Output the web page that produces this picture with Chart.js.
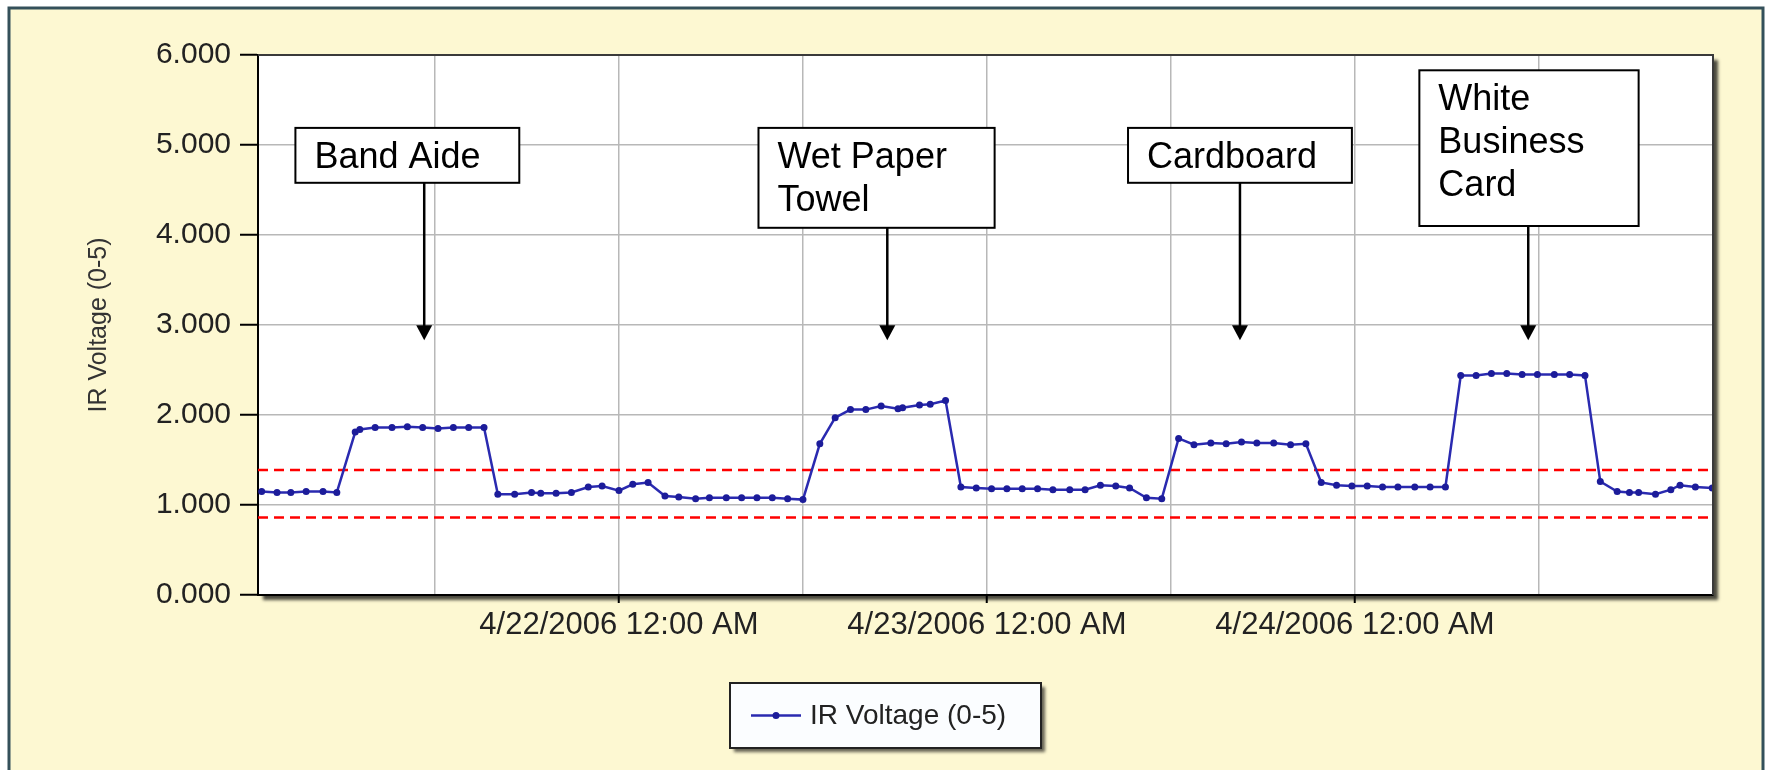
<!DOCTYPE html>
<html>
<head>
<meta charset="utf-8">
<script src="https://cdn.jsdelivr.net/npm/chart.js@4.4.0/dist/chart.umd.min.js"></script>
<style>
  html, body { margin: 0; padding: 0; background: #fff; }
  #wrap { width: 1771px; height: 770px; position: relative; }
</style>
</head>
<body>
<div id="wrap"><canvas id="chart"></canvas></div>
<script>
// hours since 4/21/2006 12:00 AM
const hours = [
  0.7, 1.7, 2.6, 3.6, 4.7, 5.6,
  6.8, 7.1, 8.1, 9.2, 10.2, 11.2, 12.2, 13.2, 14.2, 15.2,
  16.1, 17.2, 18.3, 18.9, 19.9, 20.9, 22.0, 22.9, 24.0, 24.9, 25.9, 27.0, 27.9, 29.0, 29.9, 31.0, 32.0, 33.0, 34.0, 35.0, 36.0,
  37.1, 38.1, 39.1, 40.1, 41.1, 42.2, 42.5, 43.6, 44.3, 45.3,
  46.3, 47.3, 48.3, 49.3, 50.3, 51.3, 52.3, 53.4, 54.4, 55.4, 56.4, 57.3, 58.4, 59.4,
  60.5, 61.5, 62.6, 63.6, 64.6, 65.6, 66.7, 67.8, 68.8,
  69.8, 70.8, 71.8, 72.8, 73.8, 74.8, 75.9, 76.9, 77.9,
  78.9, 79.9, 80.9, 81.9, 82.9, 83.9, 85.0, 86.0, 87.0,
  88.0, 89.1, 89.9, 90.5, 91.6, 92.6, 93.2, 94.2, 95.3
];
const voltage = [
  1.15, 1.14, 1.14, 1.15, 1.15, 1.14,
  1.81, 1.84, 1.86, 1.86, 1.87, 1.86, 1.85, 1.86, 1.86, 1.86,
  1.12, 1.12, 1.14, 1.13, 1.13, 1.14, 1.20, 1.21, 1.16, 1.23, 1.25, 1.10, 1.09, 1.07, 1.08, 1.08, 1.08, 1.08, 1.08, 1.07, 1.06,
  1.68, 1.97, 2.06, 2.06, 2.10, 2.07, 2.08, 2.11, 2.12, 2.16,
  1.20, 1.19, 1.18, 1.18, 1.18, 1.18, 1.17, 1.17, 1.17, 1.22, 1.21, 1.19, 1.08, 1.07,
  1.74, 1.67, 1.69, 1.68, 1.70, 1.69, 1.69, 1.67, 1.68,
  1.25, 1.22, 1.21, 1.21, 1.20, 1.20, 1.20, 1.20, 1.20,
  2.44, 2.44, 2.46, 2.46, 2.45, 2.45, 2.45, 2.45, 2.44,
  1.26, 1.15, 1.14, 1.14, 1.12, 1.17, 1.22, 1.20, 1.19
];
const tickHours = [12, 24, 36, 48, 60, 72, 84];
const tickLabels = ['', '4/22/2006 12:00 AM', '', '4/23/2006 12:00 AM', '', '4/24/2006 12:00 AM', ''];
const limitHigh = 1.39;
const limitLow = 0.86;
const noteTexts = [['Band Aide'], ['Wet Paper', 'Towel'], ['Cardboard'], ['White', 'Business', 'Card']];
const seriesName = 'IR Voltage (0-5)';

const xMin = 0.46, xMax = 95.35;
const FONT = 'Liberation Sans';

// box corners (hours / volts) and arrow position for each note
const noteBoxes = [
  { x0: 2.9, x1: 17.5, y0: 5.19, y1: 4.58, ax: 11.3 },
  { x0: 33.1, x1: 48.5, y0: 5.19, y1: 4.08, ax: 41.5 },
  { x0: 57.2, x1: 71.8, y0: 5.19, y1: 4.58, ax: 64.5 },
  { x0: 76.2, x1: 90.5, y0: 5.83, y1: 4.10, ax: 83.3 }
];
const arrowTip = 2.83;

const decor = {
  id: 'decor',
  beforeDraw(chart) {
    const { ctx, chartArea: a, width, height } = chart;
    ctx.save();
    ctx.fillStyle = '#ffffff';
    ctx.fillRect(0, 0, width, height);
    ctx.fillStyle = '#fdf8d2';
    ctx.fillRect(9, 8, width - 17, height);
    ctx.strokeStyle = '#34505a';
    ctx.lineWidth = 3;
    ctx.beginPath();
    ctx.moveTo(9, height); ctx.lineTo(9, 8); ctx.lineTo(width - 8, 8); ctx.lineTo(width - 8, height);
    ctx.stroke();
    // plot area with drop shadow
    ctx.shadowColor = 'rgba(0,0,0,0.7)';
    ctx.shadowOffsetX = 5; ctx.shadowOffsetY = 5; ctx.shadowBlur = 3;
    ctx.fillStyle = '#ffffff';
    ctx.fillRect(a.left, a.top, a.width, a.height);
    ctx.restore();
  },
  afterDraw(chart) {
    const { ctx, chartArea: a, scales: { x, y }, width } = chart;
    ctx.save();
    // top and right frame
    ctx.strokeStyle = '#3a3a3a';
    ctx.lineWidth = 2;
    ctx.beginPath();
    ctx.moveTo(a.left, a.top); ctx.lineTo(a.right, a.top); ctx.lineTo(a.right, a.bottom);
    ctx.stroke();

    // notes with arrows
    ctx.font = '36px "' + FONT + '"';
    ctx.textBaseline = 'middle';
    ctx.textAlign = 'left';
    noteBoxes.forEach((b, i) => {
      const l = x.getPixelForValue(b.x0), r = x.getPixelForValue(b.x1);
      const t = y.getPixelForValue(b.y0), btm = y.getPixelForValue(b.y1);
      ctx.fillStyle = '#fff';
      ctx.fillRect(l, t, r - l, btm - t);
      ctx.strokeStyle = '#000';
      ctx.lineWidth = 2;
      ctx.strokeRect(l, t, r - l, btm - t);
      ctx.fillStyle = '#000';
      noteTexts[i].forEach((line, k) => ctx.fillText(line, l + 19, t + 30 + k * 43));
      const ax = x.getPixelForValue(b.ax), tip = y.getPixelForValue(arrowTip);
      ctx.lineWidth = 2.5;
      ctx.beginPath();
      ctx.moveTo(ax, btm); ctx.lineTo(ax, tip - 14);
      ctx.stroke();
      ctx.beginPath();
      ctx.moveTo(ax - 8, tip - 15); ctx.lineTo(ax + 8, tip - 15); ctx.lineTo(ax, tip);
      ctx.closePath();
      ctx.fill();
    });

    // legend
    const lw = 311, lh = 65, lx = Math.round(width / 2 - lw / 2), ly = 683;
    ctx.save();
    ctx.shadowColor = 'rgba(0,0,0,0.6)';
    ctx.shadowOffsetX = 4; ctx.shadowOffsetY = 4; ctx.shadowBlur = 3;
    ctx.fillStyle = '#fbfdff';
    ctx.fillRect(lx, ly, lw, lh);
    ctx.restore();
    ctx.strokeStyle = '#222';
    ctx.lineWidth = 2;
    ctx.strokeRect(lx, ly, lw, lh);
    const cy = ly + lh / 2;
    ctx.strokeStyle = '#2a2ab0';
    ctx.lineWidth = 2.5;
    ctx.beginPath();
    ctx.moveTo(lx + 21, cy); ctx.lineTo(lx + 71, cy);
    ctx.stroke();
    ctx.fillStyle = '#1c1c9a';
    ctx.beginPath();
    ctx.arc(lx + 46, cy, 3.5, 0, Math.PI * 2);
    ctx.fill();
    ctx.fillStyle = '#222';
    ctx.font = '28px "' + FONT + '"';
    ctx.fillText(seriesName, lx + 80, cy + 1);
    ctx.restore();
  }
};

new Chart(document.getElementById('chart'), {
  type: 'line',
  data: {
    datasets: [
      {
        label: seriesName,
        data: hours.map((h, i) => ({ x: h, y: voltage[i] })),
        borderColor: '#2a2ab0',
        borderWidth: 2.5,
        pointRadius: 3.5,
        pointBackgroundColor: '#1c1c9a',
        pointBorderColor: '#1c1c9a',
        pointBorderWidth: 0,
        tension: 0
      },
      {
        label: 'high',
        data: [{ x: xMin, y: limitHigh }, { x: xMax, y: limitHigh }],
        borderColor: '#ff0000',
        borderWidth: 2.5,
        borderDash: [10, 6],
        pointRadius: 0
      },
      {
        label: 'low',
        data: [{ x: xMin, y: limitLow }, { x: xMax, y: limitLow }],
        borderColor: '#ff0000',
        borderWidth: 2.5,
        borderDash: [10, 6],
        pointRadius: 0
      }
    ]
  },
  options: {
    responsive: true,
    maintainAspectRatio: false,
    animation: false,
    layout: { padding: { top: 55, right: 58, left: 0, bottom: 0 } },
    plugins: { legend: { display: false }, tooltip: { enabled: false } },
    scales: {
      x: {
        type: 'linear',
        min: xMin,
        max: xMax,
        afterBuildTicks: s => { s.ticks = tickHours.map(v => ({ value: v })); },
        afterFit: s => { s.height = 175; },
        grid: {
          color: '#b8b8b8',
          lineWidth: 1.5,
          tickLength: 8,
          tickWidth: 2,
          tickColor: c => (tickLabels[c.index] ? '#000' : 'rgba(0,0,0,0)')
        },
        border: { color: '#000', width: 2 },
        ticks: {
          autoSkip: false,
          maxRotation: 0,
          padding: 4,
          color: '#222',
          font: { size: 31, family: FONT },
          callback: (v, i) => tickLabels[i]
        }
      },
      y: {
        min: 0,
        max: 6,
        afterFit: s => { s.width = 258; },
        grid: { color: '#b8b8b8', lineWidth: 1.5, tickLength: 18, tickWidth: 2, tickColor: '#000' },
        border: { color: '#000', width: 2 },
        ticks: {
          stepSize: 1,
          padding: 9,
          color: '#222',
          font: { size: 30, family: FONT },
          callback: v => v.toFixed(3)
        },
        title: {
          display: true,
          text: seriesName,
          color: '#333',
          font: { size: 25, family: FONT },
          padding: { top: 84, bottom: 0 }
        }
      }
    }
  },
  plugins: [decor]
});
</script>
</body>
</html>
